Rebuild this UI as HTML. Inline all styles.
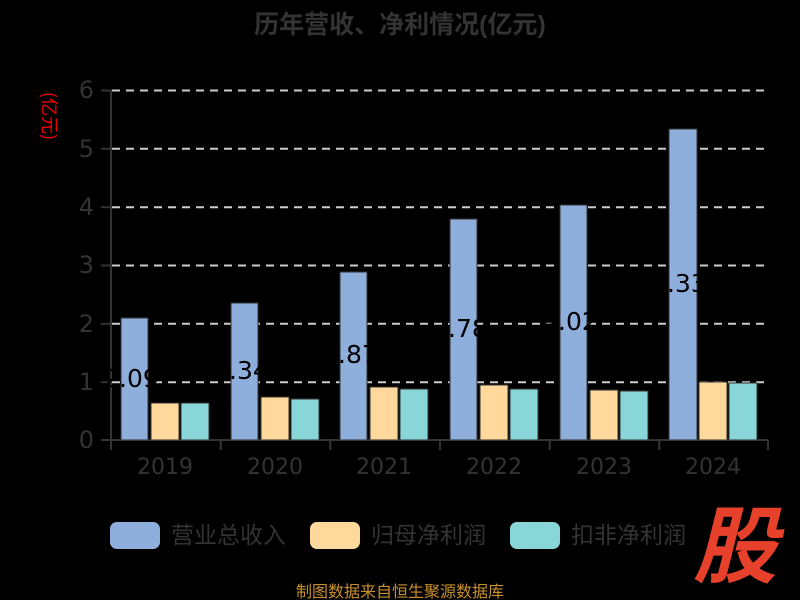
<!DOCTYPE html>
<html><head><meta charset="utf-8"><style>
html,body{margin:0;padding:0;background:#000;}
svg{display:block;font-family:"DejaVu Sans","Noto Sans CJK SC",sans-serif;}
</style></head><body>
<svg width="800" height="600" viewBox="0 0 800 600" xmlns="http://www.w3.org/2000/svg">
<rect width="800" height="600" fill="#000"/>
<text x="400" y="33" text-anchor="middle" font-size="25" font-weight="bold" fill="#333" font-family="Liberation Sans,Noto Sans CJK SC,sans-serif">历年营收、净利情况(亿元)</text>
<text transform="translate(48,116) rotate(90)" text-anchor="middle" font-size="18" fill="#e00" dominant-baseline="middle" font-family="Noto Sans CJK SC,sans-serif">(亿元)</text>
<g stroke="#ccc" stroke-width="2" stroke-dasharray="8,6">
<line x1="112" y1="90.5" x2="768" y2="90.5"/>
<line x1="112" y1="148.8" x2="768" y2="148.8"/>
<line x1="112" y1="207.2" x2="768" y2="207.2"/>
<line x1="112" y1="265.5" x2="768" y2="265.5"/>
<line x1="112" y1="323.8" x2="768" y2="323.8"/>
<line x1="112" y1="382.2" x2="768" y2="382.2"/>
</g>
<g stroke="#333" stroke-width="2">
<line x1="111" y1="90" x2="111" y2="441"/>
<line x1="101" y1="90.5" x2="111" y2="90.5"/>
<line x1="101" y1="148.8" x2="111" y2="148.8"/>
<line x1="101" y1="207.2" x2="111" y2="207.2"/>
<line x1="101" y1="265.5" x2="111" y2="265.5"/>
<line x1="101" y1="323.8" x2="111" y2="323.8"/>
<line x1="101" y1="382.2" x2="111" y2="382.2"/>
<line x1="101" y1="440" x2="768" y2="440"/>
<line x1="111" y1="440" x2="111" y2="450"/>
<line x1="220.7" y1="440" x2="220.7" y2="450"/>
<line x1="330.3" y1="440" x2="330.3" y2="450"/>
<line x1="440" y1="440" x2="440" y2="450"/>
<line x1="549.7" y1="440" x2="549.7" y2="450"/>
<line x1="659.3" y1="440" x2="659.3" y2="450"/>
<line x1="768" y1="440" x2="768" y2="450"/>
</g>
<g font-size="24" fill="#333" text-anchor="end">
<text x="94" y="98">6</text><text x="94" y="157">5</text><text x="94" y="215">4</text>
<text x="94" y="273">3</text><text x="94" y="332">2</text><text x="94" y="390">1</text><text x="94" y="448">0</text>
</g>
<g font-size="22" fill="#333" text-anchor="middle">
<text x="165" y="474">2019</text><text x="275" y="474">2020</text><text x="384" y="474">2021</text>
<text x="494" y="474">2022</text><text x="604" y="474">2023</text><text x="713" y="474">2024</text>
</g>
<g stroke="#333" stroke-width="1">
<rect x="121" y="318" width="27" height="122" fill="#8eaedc"/>
<rect x="151" y="403" width="28" height="37" fill="#ffd99b"/>
<rect x="181" y="403" width="28" height="37" fill="#88d6d8"/>
<rect x="231" y="303" width="27" height="137" fill="#8eaedc"/>
<rect x="261" y="397" width="28" height="43" fill="#ffd99b"/>
<rect x="291" y="399" width="28" height="41" fill="#88d6d8"/>
<rect x="340" y="272" width="27" height="168" fill="#8eaedc"/>
<rect x="370" y="387" width="28" height="53" fill="#ffd99b"/>
<rect x="400" y="389" width="28" height="51" fill="#88d6d8"/>
<rect x="450" y="219" width="27" height="221" fill="#8eaedc"/>
<rect x="480" y="385" width="28" height="55" fill="#ffd99b"/>
<rect x="510" y="389" width="28" height="51" fill="#88d6d8"/>
<rect x="560" y="205" width="27" height="235" fill="#8eaedc"/>
<rect x="590" y="390" width="28" height="50" fill="#ffd99b"/>
<rect x="620" y="391" width="28" height="49" fill="#88d6d8"/>
<rect x="669" y="129" width="28" height="311" fill="#8eaedc"/>
<rect x="699" y="382" width="28" height="58" fill="#ffd99b"/>
<rect x="729" y="383" width="28" height="57" fill="#88d6d8"/>
</g>
<g font-size="25" fill="#000" text-anchor="middle">
<text x="131" y="387">2.09</text><text x="241" y="379">2.34</text><text x="350" y="363">2.87</text>
<text x="460" y="337">3.78</text><text x="570" y="330">4.02</text><text x="679" y="292">5.33</text>
</g>
<g font-family="Noto Sans CJK SC,sans-serif" font-size="23" fill="#333">
<rect x="110" y="522" width="50" height="27" rx="7" fill="#8eaedc"/>
<text x="171" y="543">营业总收入</text>
<rect x="310" y="522" width="50" height="27" rx="7" fill="#ffd99b"/>
<text x="371" y="543">归母净利润</text>
<rect x="510" y="522" width="50" height="27" rx="7" fill="#88d6d8"/>
<text x="571" y="543">扣非净利润</text>
</g>
<text x="400" y="597" font-size="16" fill="#c8902a" text-anchor="middle" font-family="Noto Sans CJK SC,sans-serif">制图数据来自恒生聚源数据库</text>
<text x="735" y="576" font-size="84" font-weight="bold" font-style="italic" fill="#e8412b" text-anchor="middle" font-family="Noto Sans CJK SC,sans-serif">股</text>
</svg>
</body></html>
